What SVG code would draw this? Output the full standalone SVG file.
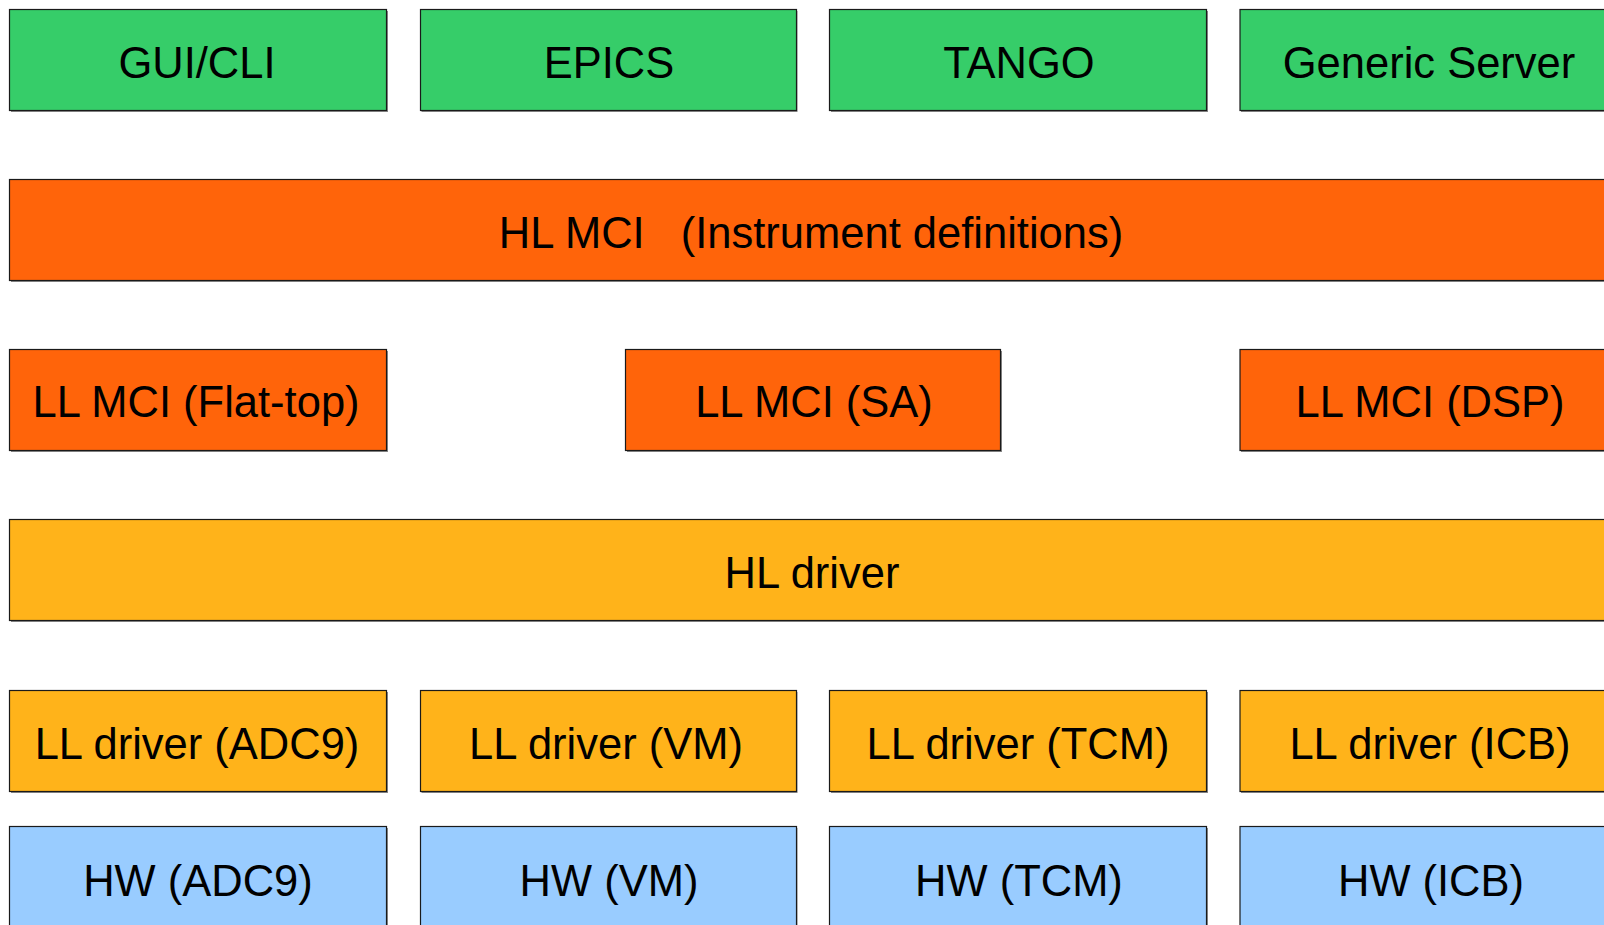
<svg xmlns="http://www.w3.org/2000/svg" width="1604" height="925" viewBox="0 0 1604 925">
<style>
  .box { stroke: #1a1a1a; stroke-width: 1.2; }
  .shadow { fill: #8a8a8a; }
  .g { fill: #36cd69; }
  .o { fill: #ff640a; }
  .y { fill: #ffb31a; }
  .b { fill: #99ccff; }
  text { font-family: "Liberation Sans", Arial, sans-serif; font-size: 43.5px; fill: #000; text-anchor: middle; }
</style>
<rect width="1604" height="925" fill="#ffffff"/>
<g id="connectors"></g>

<g id="gui-cli"><rect class="shadow" x="11" y="11" width="377" height="101"/><rect class="box g" x="9.5" y="9.5" width="377" height="101"/><text x="197" y="78">GUI/CLI</text></g>
<g id="epics"><rect class="shadow" x="421.5" y="11" width="376" height="101"/><rect class="box g" x="420.5" y="9.5" width="376" height="101"/><text x="609" y="78">EPICS</text></g>
<g id="tango"><rect class="shadow" x="831" y="11" width="377" height="101"/><rect class="box g" x="829.5" y="9.5" width="377" height="101"/><text x="1019" y="78">TANGO</text></g>
<g id="generic-server"><rect class="shadow" x="1241" y="11" width="377" height="101"/><rect class="box g" x="1240" y="9.5" width="377" height="101"/><text x="1429" y="78">Generic Server</text></g>

<g id="hl-mci"><rect class="shadow" x="11" y="181" width="1607" height="101"/><rect class="box o" x="9.5" y="179.5" width="1607" height="101"/><text x="811" y="248">HL MCI<tspan dx="24"> (Instrument definitions)</tspan></text></g>

<g id="ll-mci-flattop"><rect class="shadow" x="11" y="351" width="377" height="101"/><rect class="box o" x="9.5" y="349.5" width="377" height="101"/><text x="196" y="417">LL MCI (Flat-top)</text></g>
<g id="ll-mci-sa"><rect class="shadow" x="627" y="351" width="375" height="101"/><rect class="box o" x="625.5" y="349.5" width="375" height="101"/><text x="814" y="417">LL MCI (SA)</text></g>
<g id="ll-mci-dsp"><rect class="shadow" x="1241" y="351" width="377" height="101"/><rect class="box o" x="1240" y="349.5" width="377" height="101"/><text x="1430" y="417">LL MCI (DSP)</text></g>

<g id="hl-driver"><rect class="shadow" x="11" y="521" width="1607" height="101"/><rect class="box y" x="9.5" y="519.5" width="1607" height="101"/><text x="812" y="588">HL driver</text></g>

<g id="ll-driver-adc9"><rect class="shadow" x="11" y="692" width="377" height="101"/><rect class="box y" x="9.5" y="690.5" width="377" height="101"/><text x="197" y="759">LL driver (ADC9)</text></g>
<g id="ll-driver-vm"><rect class="shadow" x="421.5" y="692" width="376" height="101"/><rect class="box y" x="420.5" y="690.5" width="376" height="101"/><text x="606" y="759">LL driver (VM)</text></g>
<g id="ll-driver-tcm"><rect class="shadow" x="831" y="692" width="377" height="101"/><rect class="box y" x="829.5" y="690.5" width="377" height="101"/><text x="1018" y="759">LL driver (TCM)</text></g>
<g id="ll-driver-icb"><rect class="shadow" x="1241" y="692" width="377" height="101"/><rect class="box y" x="1240" y="690.5" width="377" height="101"/><text x="1430" y="759">LL driver (ICB)</text></g>

<g id="hw-adc9"><rect class="shadow" x="11" y="828" width="377" height="101"/><rect class="box b" x="9.5" y="826.5" width="377" height="101"/><text x="198" y="896">HW (ADC9)</text></g>
<g id="hw-vm"><rect class="shadow" x="421.5" y="828" width="376" height="101"/><rect class="box b" x="420.5" y="826.5" width="376" height="101"/><text x="609" y="896">HW (VM)</text></g>
<g id="hw-tcm"><rect class="shadow" x="831" y="828" width="377" height="101"/><rect class="box b" x="829.5" y="826.5" width="377" height="101"/><text x="1019" y="896">HW (TCM)</text></g>
<g id="hw-icb"><rect class="shadow" x="1241" y="828" width="377" height="101"/><rect class="box b" x="1240" y="826.5" width="377" height="101"/><text x="1431" y="896">HW (ICB)</text></g>
</svg>
